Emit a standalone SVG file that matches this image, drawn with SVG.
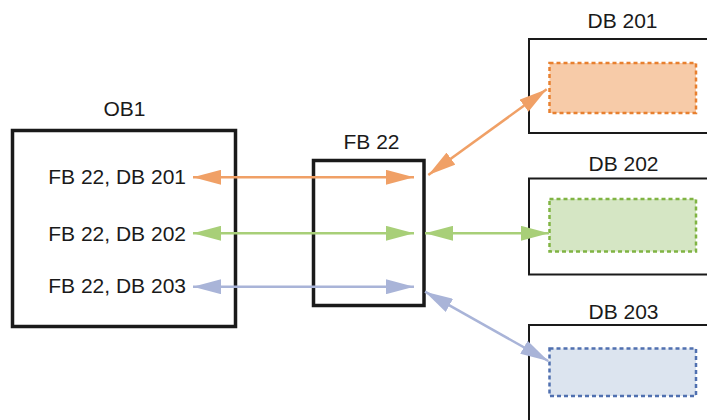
<svg xmlns="http://www.w3.org/2000/svg" width="707" height="420" viewBox="0 0 707 420">
<style>
text{font-family:"Liberation Sans",Arial,sans-serif;font-size:21px;fill:#1a1a1a}
.main{fill:#fff;stroke:#1a1a1a;stroke-width:3.5}
.db{fill:#fff;stroke:#1a1a1a;stroke-width:2}
.or{stroke:#F0A066;stroke-width:2.5;fill:none}
.gr{stroke:#A8CF78;stroke-width:2.5;fill:none}
.bl{stroke:#A9B4D8;stroke-width:2.5;fill:none}
</style>
<defs>
<marker id="mo" viewBox="0 0 28 15" refX="28" refY="7.5" markerWidth="28" markerHeight="15" markerUnits="userSpaceOnUse" orient="auto-start-reverse"><path d="M0,0 L28,7.5 L0,15 z" fill="#F0A066"/></marker>
<marker id="mg" viewBox="0 0 28 15" refX="28" refY="7.5" markerWidth="28" markerHeight="15" markerUnits="userSpaceOnUse" orient="auto-start-reverse"><path d="M0,0 L28,7.5 L0,15 z" fill="#A8CF78"/></marker>
<marker id="mb" viewBox="0 0 28 15" refX="28" refY="7.5" markerWidth="28" markerHeight="15" markerUnits="userSpaceOnUse" orient="auto-start-reverse"><path d="M0,0 L28,7.5 L0,15 z" fill="#A9B4D8"/></marker>
</defs>
<g id="OB1">
<rect class="main" x="12.5" y="130.5" width="223" height="196"/>
<text x="124.5" y="116" text-anchor="middle">OB1</text>
<text x="186" y="184" text-anchor="end">FB 22, DB 201</text>
<text x="186" y="240.5" text-anchor="end">FB 22, DB 202</text>
<text x="186" y="293" text-anchor="end">FB 22, DB 203</text>
</g>
<g id="FB22">
<rect class="main" x="313.5" y="160.5" width="110.5" height="145"/>
<text x="371.5" y="149" text-anchor="middle">FB 22</text>
</g>
<g id="DB201">
<rect class="db" x="529" y="39" width="190" height="94"/>
<rect x="549.5" y="63" width="146.5" height="50" fill="#F7CBA8" stroke="#E8802F" stroke-width="2.5" stroke-dasharray="4,3"/>
<text x="622.5" y="28" text-anchor="middle">DB 201</text>
</g>
<g id="DB202">
<rect class="db" x="529" y="178.5" width="190" height="96"/>
<rect x="549.5" y="199" width="146.5" height="52.5" fill="#D5E6C4" stroke="#80B443" stroke-width="2.5" stroke-dasharray="4,3"/>
<text x="623.5" y="170.5" text-anchor="middle">DB 202</text>
</g>
<g id="DB203">
<rect class="db" x="529" y="325" width="190" height="110"/>
<rect x="549.5" y="348.5" width="146.5" height="47.5" fill="#DCE4EF" stroke="#5070B0" stroke-width="2.5" stroke-dasharray="4,3"/>
<text x="623.5" y="318.5" text-anchor="middle">DB 203</text>
</g>
<g id="connectors">
<line class="or" x1="193" y1="177.3" x2="414" y2="177.3" marker-start="url(#mo)" marker-end="url(#mo)"/>
<line class="gr" x1="193" y1="233.3" x2="414" y2="233.3" marker-start="url(#mg)" marker-end="url(#mg)"/>
<line class="bl" x1="193" y1="286.7" x2="414" y2="286.7" marker-start="url(#mb)" marker-end="url(#mb)"/>
<line class="or" x1="428.3" y1="175" x2="546.7" y2="89.3" marker-start="url(#mo)" marker-end="url(#mo)"/>
<line class="gr" x1="425" y1="233.3" x2="549" y2="233.3" marker-start="url(#mg)" marker-end="url(#mg)"/>
<line class="bl" x1="425" y1="291.7" x2="548.3" y2="361" marker-start="url(#mb)" marker-end="url(#mb)"/>
</g>
</svg>
